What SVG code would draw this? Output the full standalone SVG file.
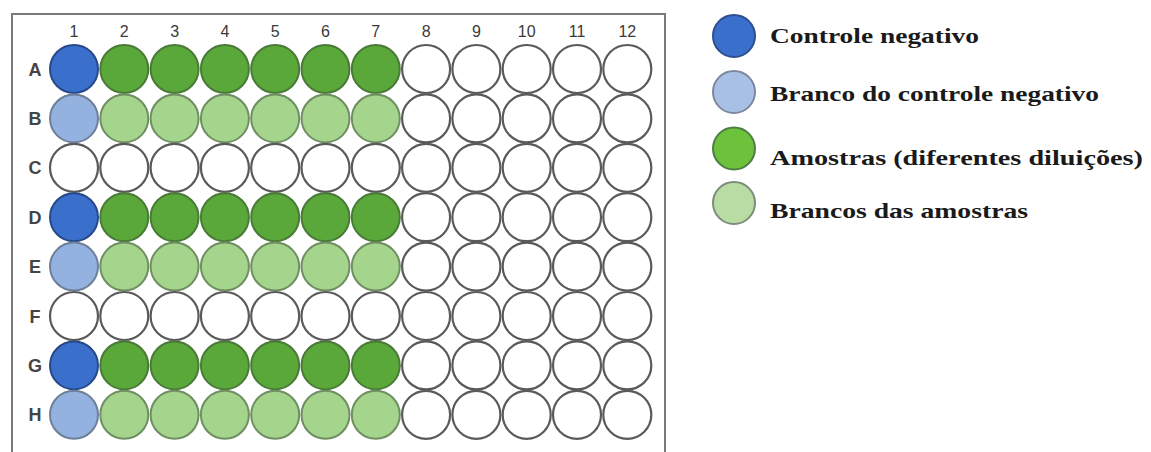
<svg xmlns="http://www.w3.org/2000/svg" width="1151" height="452" viewBox="0 0 1151 452">
<style>
.lbl{font-family:"Liberation Sans",Arial,sans-serif;font-size:16px;fill:#3a3a3a;text-anchor:middle}
.rl{font-family:"Liberation Sans",Arial,sans-serif;font-size:18px;font-weight:bold;fill:#444;text-anchor:middle}
.e{fill:#fff;stroke:#5a5a5a;stroke-width:2.2}
.nc{fill:#3a6fcc;stroke:#27498a;stroke-width:2}
.bn{fill:#94b2e0;stroke:#6e7f99;stroke-width:2}
.s{fill:#5aa83a;stroke:#4a7a38;stroke-width:2}
.bs{fill:#a5d48c;stroke:#6f8f62;stroke-width:2}
.lg{font-family:"Liberation Serif","Times New Roman",serif;font-size:22px;font-weight:bold;fill:#1a1a1a}
</style>
<rect width="1151" height="452" fill="#fff"/>
<g id="plate">
<path d="M12 460 V14 H665 V452" fill="none" stroke="#7a7a7a" stroke-width="2"/>
</g>
<g id="column-labels">
<text class="lbl" x="74" y="37">1</text>
<text class="lbl" x="124.3" y="37">2</text>
<text class="lbl" x="174.6" y="37">3</text>
<text class="lbl" x="224.9" y="37">4</text>
<text class="lbl" x="275.2" y="37">5</text>
<text class="lbl" x="325.5" y="37">6</text>
<text class="lbl" x="375.8" y="37">7</text>
<text class="lbl" x="426.1" y="37">8</text>
<text class="lbl" x="476.4" y="37">9</text>
<text class="lbl" x="526.7" y="37">10</text>
<text class="lbl" x="577" y="37">11</text>
<text class="lbl" x="627.3" y="37">12</text>
</g>
<g id="row-labels">
<text class="rl" x="35" y="75.5">A</text>
<text class="rl" x="35" y="124.9">B</text>
<text class="rl" x="35" y="174.3">C</text>
<text class="rl" x="35" y="223.7">D</text>
<text class="rl" x="35" y="273.1">E</text>
<text class="rl" x="35" y="322.5">F</text>
<text class="rl" x="35" y="371.9">G</text>
<text class="rl" x="35" y="421.3">H</text>
</g>
<g id="wells">
<g id="row-A">
<circle class="nc" cx="74" cy="69" r="24"/>
<circle class="s" cx="124.3" cy="69" r="24"/><circle class="s" cx="174.6" cy="69" r="24"/><circle class="s" cx="224.9" cy="69" r="24"/><circle class="s" cx="275.2" cy="69" r="24"/><circle class="s" cx="325.5" cy="69" r="24"/><circle class="s" cx="375.8" cy="69" r="24"/>
<circle class="e" cx="426.1" cy="69" r="24"/><circle class="e" cx="476.4" cy="69" r="24"/><circle class="e" cx="526.7" cy="69" r="24"/><circle class="e" cx="577" cy="69" r="24"/><circle class="e" cx="627.3" cy="69" r="24"/>
</g>
<g id="row-B">
<circle class="bn" cx="74" cy="118.4" r="24"/>
<circle class="bs" cx="124.3" cy="118.4" r="24"/><circle class="bs" cx="174.6" cy="118.4" r="24"/><circle class="bs" cx="224.9" cy="118.4" r="24"/><circle class="bs" cx="275.2" cy="118.4" r="24"/><circle class="bs" cx="325.5" cy="118.4" r="24"/><circle class="bs" cx="375.8" cy="118.4" r="24"/>
<circle class="e" cx="426.1" cy="118.4" r="24"/><circle class="e" cx="476.4" cy="118.4" r="24"/><circle class="e" cx="526.7" cy="118.4" r="24"/><circle class="e" cx="577" cy="118.4" r="24"/><circle class="e" cx="627.3" cy="118.4" r="24"/>
</g>
<g id="row-C">
<circle class="e" cx="74" cy="167.8" r="24"/><circle class="e" cx="124.3" cy="167.8" r="24"/><circle class="e" cx="174.6" cy="167.8" r="24"/><circle class="e" cx="224.9" cy="167.8" r="24"/><circle class="e" cx="275.2" cy="167.8" r="24"/><circle class="e" cx="325.5" cy="167.8" r="24"/><circle class="e" cx="375.8" cy="167.8" r="24"/><circle class="e" cx="426.1" cy="167.8" r="24"/><circle class="e" cx="476.4" cy="167.8" r="24"/><circle class="e" cx="526.7" cy="167.8" r="24"/><circle class="e" cx="577" cy="167.8" r="24"/><circle class="e" cx="627.3" cy="167.8" r="24"/>
</g>
<g id="row-D">
<circle class="nc" cx="74" cy="217.2" r="24"/>
<circle class="s" cx="124.3" cy="217.2" r="24"/><circle class="s" cx="174.6" cy="217.2" r="24"/><circle class="s" cx="224.9" cy="217.2" r="24"/><circle class="s" cx="275.2" cy="217.2" r="24"/><circle class="s" cx="325.5" cy="217.2" r="24"/><circle class="s" cx="375.8" cy="217.2" r="24"/>
<circle class="e" cx="426.1" cy="217.2" r="24"/><circle class="e" cx="476.4" cy="217.2" r="24"/><circle class="e" cx="526.7" cy="217.2" r="24"/><circle class="e" cx="577" cy="217.2" r="24"/><circle class="e" cx="627.3" cy="217.2" r="24"/>
</g>
<g id="row-E">
<circle class="bn" cx="74" cy="266.6" r="24"/>
<circle class="bs" cx="124.3" cy="266.6" r="24"/><circle class="bs" cx="174.6" cy="266.6" r="24"/><circle class="bs" cx="224.9" cy="266.6" r="24"/><circle class="bs" cx="275.2" cy="266.6" r="24"/><circle class="bs" cx="325.5" cy="266.6" r="24"/><circle class="bs" cx="375.8" cy="266.6" r="24"/>
<circle class="e" cx="426.1" cy="266.6" r="24"/><circle class="e" cx="476.4" cy="266.6" r="24"/><circle class="e" cx="526.7" cy="266.6" r="24"/><circle class="e" cx="577" cy="266.6" r="24"/><circle class="e" cx="627.3" cy="266.6" r="24"/>
</g>
<g id="row-F">
<circle class="e" cx="74" cy="316" r="24"/><circle class="e" cx="124.3" cy="316" r="24"/><circle class="e" cx="174.6" cy="316" r="24"/><circle class="e" cx="224.9" cy="316" r="24"/><circle class="e" cx="275.2" cy="316" r="24"/><circle class="e" cx="325.5" cy="316" r="24"/><circle class="e" cx="375.8" cy="316" r="24"/><circle class="e" cx="426.1" cy="316" r="24"/><circle class="e" cx="476.4" cy="316" r="24"/><circle class="e" cx="526.7" cy="316" r="24"/><circle class="e" cx="577" cy="316" r="24"/><circle class="e" cx="627.3" cy="316" r="24"/>
</g>
<g id="row-G">
<circle class="nc" cx="74" cy="365.4" r="24"/>
<circle class="s" cx="124.3" cy="365.4" r="24"/><circle class="s" cx="174.6" cy="365.4" r="24"/><circle class="s" cx="224.9" cy="365.4" r="24"/><circle class="s" cx="275.2" cy="365.4" r="24"/><circle class="s" cx="325.5" cy="365.4" r="24"/><circle class="s" cx="375.8" cy="365.4" r="24"/>
<circle class="e" cx="426.1" cy="365.4" r="24"/><circle class="e" cx="476.4" cy="365.4" r="24"/><circle class="e" cx="526.7" cy="365.4" r="24"/><circle class="e" cx="577" cy="365.4" r="24"/><circle class="e" cx="627.3" cy="365.4" r="24"/>
</g>
<g id="row-H">
<circle class="bn" cx="74" cy="414.8" r="24"/>
<circle class="bs" cx="124.3" cy="414.8" r="24"/><circle class="bs" cx="174.6" cy="414.8" r="24"/><circle class="bs" cx="224.9" cy="414.8" r="24"/><circle class="bs" cx="275.2" cy="414.8" r="24"/><circle class="bs" cx="325.5" cy="414.8" r="24"/><circle class="bs" cx="375.8" cy="414.8" r="24"/>
<circle class="e" cx="426.1" cy="414.8" r="24"/><circle class="e" cx="476.4" cy="414.8" r="24"/><circle class="e" cx="526.7" cy="414.8" r="24"/><circle class="e" cx="577" cy="414.8" r="24"/><circle class="e" cx="627.3" cy="414.8" r="24"/>
</g>
</g>
<g id="legend">
<g id="legend-controle">
<circle cx="734" cy="36" r="21" fill="#3a6fcc" stroke="#2d4f8e" stroke-width="2"/>
<text class="lg" x="770" y="43" textLength="209" lengthAdjust="spacingAndGlyphs">Controle negativo</text>
</g>
<g id="legend-branco-controle">
<circle cx="734" cy="92" r="21" fill="#a9c0e6" stroke="#7d889c" stroke-width="2"/>
<text class="lg" x="770" y="101" textLength="329" lengthAdjust="spacingAndGlyphs">Branco do controle negativo</text>
</g>
<g id="legend-amostras">
<circle cx="734" cy="148.5" r="21" fill="#6cc23a" stroke="#4f7d45" stroke-width="2"/>
<text class="lg" x="770" y="165" textLength="373" lengthAdjust="spacingAndGlyphs">Amostras (diferentes diluições)</text>
</g>
<g id="legend-brancos-amostras">
<circle cx="734" cy="203" r="21" fill="#b8dca4" stroke="#7c8c78" stroke-width="2"/>
<text class="lg" x="770" y="218" textLength="258" lengthAdjust="spacingAndGlyphs">Brancos das amostras</text>
</g>
</g>
<g id="connectors"/>
</svg>
